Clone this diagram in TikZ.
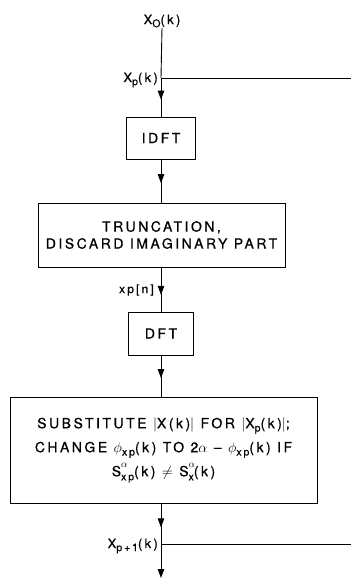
\documentclass[tikz,border=0pt]{standalone}
\usepackage{fontspec}
\setmainfont{TeX Gyre Heros}[LetterSpace=18,FakeBold=0.6]
\newcommand\lowsub[1]{\raisebox{-0.45ex}{\fontsize{10.5}{11}\selectfont #1}}
\newcommand\supsubstack[2]{\rlap{\raisebox{1.15ex}{\fontsize{10}{11}\selectfont $\alpha$}}\raisebox{-0.55ex}{\fontsize{10.5}{11}\selectfont #2}}
\usetikzlibrary{arrows.meta,decorations.markings}
\begin{document}
\begin{tikzpicture}[x=1pt,y=-1pt,
  box/.style={draw,line width=0.9pt,inner sep=0pt,align=center,font=\fontsize{14}{24}\selectfont},
  lbl/.style={inner sep=0pt,font=\fontsize{13}{15}\selectfont},
  flow/.style={line width=0.9pt},
  midarrow/.style={postaction={decorate},decoration={markings,
     mark=at position #1 with {\arrow{Triangle[length=9pt,width=6.5pt]}}}},
  endarrow/.style={-{Triangle[length=9pt,width=6.5pt]}}]
\useasboundingbox (0,0) rectangle (351,579);
\node[lbl] (xo) at (162,21) {X\lowsub{O}(k)};
\coordinate (xp) at (161,78);
\coordinate (xpr) at (351,78);
\node[lbl,anchor=east] (xplbl) at (158,80) {X\lowsub{p}(k)};
\node[box,minimum width=69pt,minimum height=42pt] (idft) at (161,138) {IDFT};
\node[box,minimum width=247pt,minimum height=64pt,font=\fontsize{14}{17}\selectfont] (trunc) at (161.5,235) {TRUNCATION,\\DISCARD IMAGINARY PART};
\node[lbl,anchor=east,font=\fontsize{12}{14}\selectfont] (xpn) at (154,290) {xp[n]};
\node[box,minimum width=65pt,minimum height=43pt] (dft) at (161,333.5) {DFT};
\node[box,minimum width=307pt,minimum height=106pt] (sub) at (163.5,450)
  {SUBSTITUTE $|$X(k)$|$ FOR $|$X\lowsub{p}(k)$|$;\\
   CHANGE $\phi$\lowsub{xp}(k) TO 2$\alpha$ -- $\phi$\lowsub{xp}(k) IF\\
   S\supsubstack{a}{xp}(k) $\neq$ S\supsubstack{a}{x}(k)};
\coordinate (xp1) at (161,544);
\coordinate (xp1r) at (351,544);
\node[lbl,anchor=east] (xp1lbl) at (158,546) {X\lowsub{p+1}(k)};
\coordinate (bot) at (161,578);
\draw[flow] (xo.south) -- (xp);
\draw[flow] (xp) -- (xpr);
\draw[flow,midarrow=0.56] (xp) -- (xp |- idft.north);
\draw[flow,midarrow=0.55] (idft.south -| xp) -- (xp |- trunc.north);
\draw[flow,midarrow=0.62] (xp |- trunc.south) -- (xp |- dft.north);
\draw[flow,midarrow=0.55] (xp |- dft.south) -- (xp |- sub.north);
\draw[flow,midarrow=0.59] (xp |- sub.south) -- (xp1);
\draw[flow] (xp1) -- (xp1r);
\draw[flow,endarrow] (xp1) -- (bot);
\end{tikzpicture}
\end{document}
